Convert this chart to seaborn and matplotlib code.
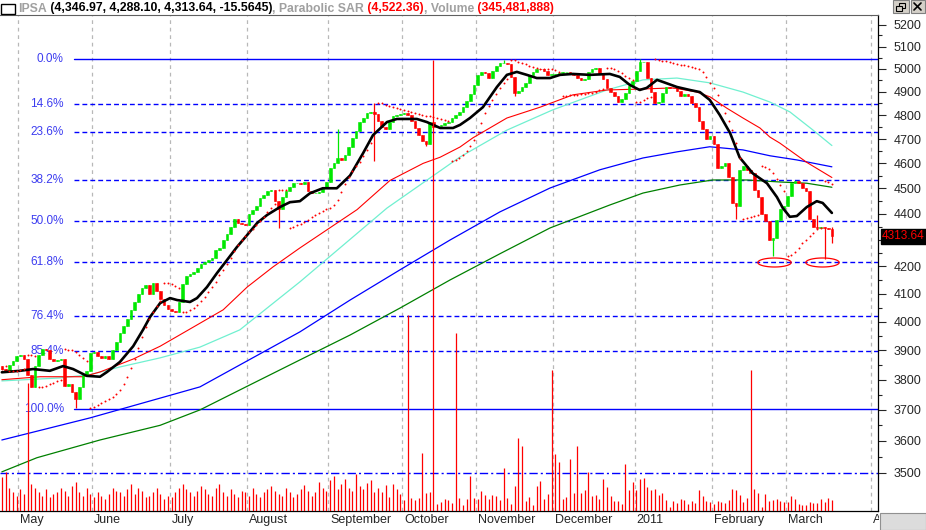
import numpy as np
import pandas as pd
import matplotlib
matplotlib.use("Agg")
import matplotlib.pyplot as plt
import seaborn as sns
from matplotlib.path import Path
from matplotlib.patches import Rectangle
from matplotlib.lines import Line2D
from matplotlib.ticker import FixedLocator, FuncFormatter, NullFormatter
from matplotlib import transforms

W, H = 926, 530

# ==============================================================================
# DATA
# ==============================================================================

START_DATE = "2010-04-26"
END_DATE = "2011-04-08"
HOLIDAYS = ["2010-05-21", "2010-06-28", "2010-07-16", "2010-09-17", "2010-09-20",
            "2010-10-11", "2010-11-01", "2010-12-08"]
MONTH_LABELS = ["May", "June", "July", "August", "September", "October", "November",
                "December", "2011", "February", "March", "April"]

FIRST_OPEN = 3845
CLOSE = [
    3835, 3830, 3850, 3865, 3880, 3885, 3870, 3815, 3775, 3845,
    3885, 3905, 3900, 3870, 3865, 3868, 3870, 3780, 3785, 3760,
    3735, 3775, 3815, 3830, 3890, 3895, 3880, 3875, 3880, 3870,
    3900, 3930, 3960, 3985, 4010, 4040, 4070, 4100, 4120, 4130,
    4098, 4140, 4110, 4080, 4060, 4045, 4038, 4035, 4070, 4135,
    4165, 4170, 4180, 4195, 4210, 4215, 4222, 4230, 4260, 4270,
    4300, 4320, 4350, 4378, 4365, 4360, 4355, 4400, 4415, 4430,
    4460, 4475, 4490, 4495, 4450, 4420, 4465, 4490, 4505, 4520,
    4520, 4515, 4525, 4490, 4480, 4482, 4485, 4500, 4525, 4580,
    4600, 4620, 4615, 4635, 4665, 4705, 4735, 4770, 4790, 4810,
    4815, 4805, 4775, 4750, 4740, 4770, 4795, 4800, 4805, 4810,
    4800, 4775, 4745, 4715, 4692, 4680, 4770, 4750, 4755, 4760,
    4765, 4770, 4790, 4800, 4812, 4835, 4860, 4890, 4930, 4975,
    4985, 4980, 4960, 4990, 5015, 5025, 5025, 5022, 4965, 4895,
    4905, 4920, 4940, 4975, 4988, 5000, 4998, 4990, 4975, 4975,
    4978, 4982, 4985, 4985, 4982, 4975, 4960, 4950, 4955, 4985,
    5000, 5005, 4980, 4955, 4915, 4900, 4880, 4855, 4868, 4895,
    4925, 4945, 4990, 5030, 5030, 4960, 4900, 4850, 4855, 4895,
    4920, 4918, 4915, 4905, 4880, 4890, 4880, 4850, 4835, 4775,
    4740, 4700, 4712, 4680, 4580, 4590, 4600, 4545, 4440, 4430,
    4575, 4590, 4575, 4560, 4495, 4465, 4400, 4370, 4300, 4305,
    4375, 4420, 4430, 4470, 4520, 4530, 4520, 4500, 4490, 4380,
    4350, 4345, 4350, 4345, 4340, 4313.64,
]
WICK_HIGH = {91: 4740, 101: 4850, 136: 5040, 173: 5045, 221: 4395, 225: 4346.97}
WICK_LOW = {20: 3705, 75: 4345, 101: 4610, 115: 4670, 139: 4880, 199: 4380,
            209: 4238, 223: 4228, 225: 4288.10}

# volume in millions of shares
VOLUME_M = [
    1100, 1250, 740, 620, 500, 700, 540, 4150, 870, 740,
    620, 500, 700, 450, 540, 620, 740, 640, 500, 800,
    940, 600, 500, 740, 540, 450, 620, 500, 380, 540,
    740, 640, 600, 500, 700, 870, 540, 740, 640, 450,
    500, 600, 740, 540, 400, 500, 450, 620, 740, 870,
    700, 600, 500, 640, 800, 700, 540, 500, 740, 870,
    620, 500, 700, 540, 450, 640, 600, 500, 740, 540,
    450, 620, 700, 800, 640, 540, 500, 740, 600, 450,
    540, 700, 850, 640, 500, 600, 940, 740, 640, 1000,
    1120, 700, 870, 1050, 740, 640, 1200, 800, 700, 900,
    1000, 620, 740,
    616, 832, 454, 864, 702, 540, 346, 6350, 432, 346,
    432, 1879, 583, 616, 14600, 238, 292, 400, 346, 259,
    5760, 432, 184, 378, 1145, 410, 400, 648, 508, 378,
    508, 475, 346, 1393, 410, 216, 799, 2354, 2095, 313,
    443, 184, 810, 961, 378, 540, 4570, 1836, 1577, 378,
    443, 1674, 572, 2095, 572, 670, 1253, 475, 508, 378,
    1026, 767, 475, 313, 313, 216, 1512, 670, 929, 670,
    1026, 1058, 767, 670, 702, 508, 572, 346, 119, 313,
    248, 378, 346, 216, 313, 248, 670, 475, 313, 281,
    216, 313, 281, 248, 346, 702, 670, 508, 281, 410,
    4570, 702, 572, 119, 540, 313, 346, 378, 313, 281,
    281, 475, 378, 216, 184, 184, 281, 248, 248, 378,
    281, 410, 345,
]

# moving averages: (bar index, value) vertices
BLACK_MA_X = [0, 4.9, 8.5, 13, 16.6, 19.3, 23, 26.6, 28.5, 32, 35.6, 38.3, 40.2, 42.9,
              45.6, 47.5, 51, 52.9, 55.6, 58.3, 61, 63.7, 66.5, 69.2, 71.9, 75.4, 78.1,
              80.8, 83.5, 87, 90.8, 94.4, 97.9, 100.6, 104.4, 107.1, 112.5, 115.2, 118.8,
              122.3, 124.2, 126.9, 130.4, 134.2, 136.9, 139.6, 142.3, 145, 148.6, 151.3,
              154.8, 159.4, 164.8, 167.5, 170.2, 172.9, 174.8, 177.6, 179.2, 183, 186.5,
              189.2, 191.9, 194.6, 197.4, 200, 203.6, 207.4, 210.1, 211.7, 213.6, 215.5,
              218.2, 220.9, 222.5, 225]
BLACK_MA_Y = [3825, 3830, 3836, 3830, 3846, 3836, 3813, 3810, 3826, 3860, 3914, 3972,
              4017, 4066, 4084, 4077, 4070, 4084, 4124, 4175, 4223, 4272, 4318, 4364,
              4395, 4426, 4445, 4449, 4480, 4500, 4500, 4551, 4641, 4716, 4771, 4784,
              4784, 4771, 4746, 4746, 4759, 4788, 4834, 4921, 4974, 4987, 4974, 4960,
              4960, 4974, 4978, 4974, 4978, 4965, 4930, 4908, 4917, 4952, 4943, 4921,
              4908, 4899, 4865, 4801, 4725, 4624, 4559, 4520, 4465, 4422, 4388, 4391,
              4426, 4449, 4442, 4403]
RED_MA_X = [0, 10.4, 22, 26.6, 35.6, 42.9, 51.8, 60, 66.5, 73.5, 80.8, 96.3, 105.2,
            114.2, 118.8, 124.2, 127.7, 136.9, 145.9, 154.8, 164, 173, 182, 188.4, 192,
            196.5, 200.9, 205.5, 208.2, 210.9, 218.2, 225]
RED_MA_Y = [3800, 3810, 3810, 3826, 3870, 3914, 3980, 4042, 4124, 4198, 4269, 4416,
            4531, 4600, 4625, 4667, 4705, 4788, 4834, 4887, 4908, 4912, 4917, 4899,
            4878, 4830, 4788, 4746, 4708, 4683, 4604, 4543]
CYAN_MA_X = [0, 15.8, 23.9, 32, 42.9, 53.7, 64.5, 80.8, 104.4, 124.2, 136.9, 149.4,
             164, 173.8, 183, 191.9, 200.9, 208.2, 213.6, 219.9, 225]
CYAN_MA_Y = [3796, 3806, 3817, 3843, 3874, 3911, 3971, 4143, 4422, 4626, 4737, 4823,
             4908, 4952, 4960, 4939, 4899, 4856, 4814, 4737, 4673]
BLUE_MA_X = [0, 23.9, 53.7, 80.8, 94.4, 107.9, 121.5, 135, 148.6, 162.1, 173.8, 183,
             191.9, 200.9, 208.2, 215.5, 225]
BLUE_MA_Y = [3603, 3674, 3776, 3964, 4077, 4187, 4299, 4407, 4501, 4574, 4622, 4647,
             4668, 4655, 4631, 4614, 4586]
GREEN_MA_X = [0, 9.5, 26.6, 42.9, 53.7, 67.3, 80.8, 94.4, 107.9, 121.5, 135, 148.6,
              164.8, 173.8, 183.8, 192.7, 202, 210.9, 218.2, 225]
GREEN_MA_Y = [3503, 3547, 3603, 3650, 3700, 3783, 3867, 3953, 4048, 4150, 4247, 4345,
              4434, 4481, 4513, 4533, 4533, 4525, 4520, 4504]

FIB_HIGH = 5045
FIB_LOW = 3702
FIB_LOW_IDX = 20
FIB_LEVELS = [0.0, 14.6, 23.6, 38.2, 50.0, 61.8, 76.4, 85.4, 100.0]
LEVEL_LINE = 3500

ELLIPSE_IDX = [209.3, 222.4]
ELLIPSE_PRICE = [4218, 4218]

Y_TICKS = list(range(3500, 5201, 100))
HIDDEN_TICK = 4300  # covered by the last-price tag
LAST_LABEL = "4313.64"
LEGEND_PARTS = [
    ("IPSA", "#a0a0a0"),
    (" (4,346.97, 4,288.10, 4,313.64, -15.5645)", "black"),
    (", Parabolic SAR", "#a0a0a0"),
    (" (4,522.36)", "#ff0000"),
    (", Volume", "#a0a0a0"),
    (" (345,481,888)", "#ff0000"),
]

# ==============================================================================
# HELPERS
# ==============================================================================

def parabolic_sar(high, low, step=0.02, max_af=0.2):
    sar = np.zeros(len(high))
    up, af, ep = True, step, high[0]
    sar[0] = low[0]
    for i in range(1, len(high)):
        s = sar[i - 1] + af * (ep - sar[i - 1])
        if up:
            s = min(s, low[i - 1], low[max(i - 2, 0)])
            if low[i] < s:
                up, s, ep, af = False, ep, low[i], step
            elif high[i] > ep:
                ep, af = high[i], min(af + step, max_af)
        else:
            s = max(s, high[i - 1], high[max(i - 2, 0)])
            if high[i] > s:
                up, s, ep, af = True, ep, high[i], step
            elif low[i] < ep:
                ep, af = low[i], min(af + step, max_af)
        sar[i] = s
    return sar


def px_rect(fig, x0, y0, x1, y1, **kw):
    r = Rectangle((x0 / W, 1 - y1 / H), (x1 - x0) / W, (y1 - y0) / H,
                  transform=fig.transFigure, **kw)
    fig.patches.append(r)


def px_line(fig, xs, ys, **kw):
    fig.add_artist(Line2D([x / W for x in xs], [1 - y / H for y in ys],
                          transform=fig.transFigure, **kw))

# ==============================================================================
# PREP
# ==============================================================================

dates = pd.Series(pd.bdate_range(START_DATE, END_DATE, freq="C", holidays=HOLIDAYS))
months = dates.dt.month.values
month_pos = np.flatnonzero(months != np.r_[months[0], months[:-1]])
weeks = dates.dt.isocalendar().week.values
week_pos = np.flatnonzero(weeks != np.r_[weeks[0], weeks[:-1]])

close = np.array(CLOSE, float)
n = len(close)
idx = np.arange(n)
open_ = np.r_[FIRST_OPEN, close[:-1]]
high = np.maximum(open_, close)
low = np.minimum(open_, close)
for k, v in WICK_HIGH.items():
    high[k] = max(high[k], v)
for k, v in WICK_LOW.items():
    low[k] = min(low[k], v)
sar = parabolic_sar(high, low)
volume = np.array(VOLUME_M, float)

# ==============================================================================
# FIGURE
# ==============================================================================

sns.set_style("white")
plt.rcParams["font.family"] = ["Liberation Sans", "DejaVu Sans"]

fig = plt.figure(figsize=(W / 100, H / 100), dpi=100)
fig.patch.set_facecolor("white")
ax = fig.add_axes([0, 19 / H, 878 / W, 496 / H])
ax.set_yscale("log")
ax.set_xlim(-0.5, 237.5)
ax.set_ylim(3384, 5244)

# month grid
for p in month_pos:
    ax.axvline(p - 0.5, color="#b8b8b8", lw=0.9, ls=(0, (3, 3)), zorder=0)

# fibonacci retracement
rng = FIB_HIGH - FIB_LOW
for pct in FIB_LEVELS:
    lvl = FIB_HIGH - pct / 100 * rng
    ls = "-" if pct in (0.0, 100.0) else (0, (3.5, 2.2))
    ax.plot([FIB_LOW_IDX - 0.5, 237.5], [lvl, lvl], color="#0000ff", lw=1.0, ls=ls, zorder=1)
    ax.annotate(f"{pct:.1f}%", xy=(FIB_LOW_IDX - 0.5, lvl), xytext=(-10, 0),
                textcoords="offset pixels", ha="right", va="center",
                fontsize=8.5, color="#3c3cf0")
ax.axhline(LEVEL_LINE, color="#0000ff", lw=1.0, ls=(0, (6, 2.2, 1.5, 2.2)), zorder=1)

# moving averages
for xs, ys, col, lw in [(GREEN_MA_X, GREEN_MA_Y, "#008000", 0.9),
                        (BLUE_MA_X, BLUE_MA_Y, "#0000ff", 0.9),
                        (CYAN_MA_X, CYAN_MA_Y, "#70f0d0", 0.9),
                        (RED_MA_X, RED_MA_Y, "#ff0000", 0.8)]:
    sns.lineplot(x=xs, y=ys, color=col, linewidth=lw, ax=ax, estimator=None,
                 sort=False, legend=False, zorder=2)

# candles
up = close >= open_
cols = np.where(up, "#00e800", "#ff0000")
ax.vlines(idx, low, high, colors=cols, lw=0.9, zorder=3)
body = np.maximum(np.abs(close - open_), 2.0)
ax.bar(idx, body, bottom=np.minimum(open_, close), width=0.72, color=cols,
       edgecolor=cols, linewidth=0.4, zorder=4)

sns.lineplot(x=BLACK_MA_X, y=BLACK_MA_Y, color="black", linewidth=1.9, ax=ax,
             estimator=None, sort=False, legend=False, zorder=5)

# parabolic SAR dots
ax.plot(idx, sar, ls="none", marker="o", ms=1.4, mew=0, color="#ff0000", zorder=5)

# ellipses around the two lows
t = np.linspace(0, 2 * np.pi, 80)
ell = Path(np.c_[np.cos(t), 0.27 * np.sin(t)])
ax.plot(ELLIPSE_IDX, ELLIPSE_PRICE, ls="none", marker=ell, ms=24, mfc="none",
        mec="#ff0000", mew=0.9, zorder=6)

# volume overlay
ax2 = ax.twinx()
ax2.set_ylim(0, 496 / 0.03088)
ax2.vlines(idx, 0, volume, colors="#ff0000", lw=0.9)
ax2.set_yticks([])
for s in ax2.spines.values():
    s.set_visible(False)

# axes styling
ax.yaxis.tick_right()
ax.yaxis.set_major_locator(FixedLocator(Y_TICKS))
ax.yaxis.set_major_formatter(
    FuncFormatter(lambda v, p: "" if round(v) == HIDDEN_TICK else f"{v:.0f}"))
ax.yaxis.set_minor_locator(FixedLocator([v + 50 for v in Y_TICKS[:-1]]))
ax.yaxis.set_minor_formatter(NullFormatter())
ax.tick_params(axis="y", which="major", length=6, width=0.8, pad=5, labelsize=9,
               direction="out", right=True, left=False, labelright=True, labelleft=False)
ax.tick_params(axis="y", which="minor", length=3, width=0.8, direction="out",
               right=True, left=False)
ax.set_xticks(month_pos - 0.5)
ax.set_xticks(week_pos - 0.5, minor=True)
ax.tick_params(axis="x", which="major", length=13.7, width=0.8, labelbottom=False,
               direction="out")
ax.tick_params(axis="x", which="minor", length=3, width=0.8, direction="out")
ax.set_xlabel("")
ax.set_ylabel("")
ax.spines["left"].set_visible(False)
ax.spines["top"].set_color("#606060")
ax.spines["top"].set_linewidth(0.8)
for s in ("right", "bottom"):
    ax.spines[s].set_color("black")
    ax.spines[s].set_linewidth(0.9)

trans_x = transforms.blended_transform_factory(ax.transData, ax.transAxes)
for p, lab in zip(month_pos, MONTH_LABELS):
    ax.annotate(lab, xy=(p - 0.5, 0), xycoords=trans_x, xytext=(2, -3),
                textcoords="offset pixels", ha="left", va="top", fontsize=9,
                annotation_clip=False)

# last price tag
trans_y = transforms.blended_transform_factory(ax.transAxes, ax.transData)
ax.annotate(LAST_LABEL, xy=(1, close[-1]), xycoords=trans_y, xytext=(4, 0),
            textcoords="offset pixels", ha="left", va="center", color="#ff0000",
            fontsize=8.5, annotation_clip=False, zorder=20,
            bbox=dict(boxstyle="square,pad=0.12", fc="black", ec="black"))

# title / legend line
prev = fig.text(18 / W, 1 - 8.5 / H, LEGEND_PARTS[0][0], color=LEGEND_PARTS[0][1],
                fontsize=8.8, fontweight="bold", ha="left", va="center")
for txt, col in LEGEND_PARTS[1:]:
    prev = ax.annotate(txt, xy=(1, 0), xycoords=prev, ha="left", va="bottom",
                       color=col, fontsize=8.8, fontweight="bold", annotation_clip=False)

# window chrome
px_rect(fig, 1, 4, 15, 14, fc="white", ec="black", lw=1.0, zorder=10)
px_rect(fig, 893, 0, 909, 13, fc="#d4d0c8", ec="#808080", lw=0.8, zorder=10)
px_rect(fig, 911, 0, 925, 13, fc="#d4d0c8", ec="#808080", lw=0.8, zorder=10)
px_rect(fig, 899, 3, 905, 8, fc="none", ec="black", lw=0.8, zorder=11)
px_rect(fig, 896, 6, 902, 11, fc="#d4d0c8", ec="black", lw=0.8, zorder=12)
px_line(fig, [914, 921], [3, 10], color="black", lw=1.2, zorder=11)
px_line(fig, [914, 921], [10, 3], color="black", lw=1.2, zorder=11)
px_rect(fig, 879, 512, 880, 530, fc="white", ec="none", zorder=10)
px_rect(fig, 880, 513, 926, 530, fc="#dcdcdc", ec="#909090", lw=0.8, zorder=11)

fig.savefig("out.png", dpi=100)
